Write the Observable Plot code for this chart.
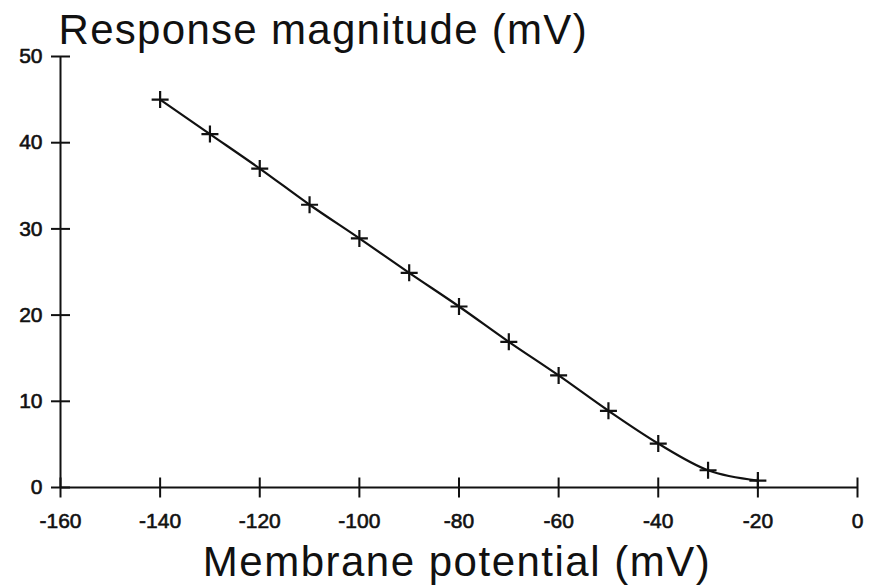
<!DOCTYPE html>
<html>
<head>
<meta charset="utf-8">
<script src="https://cdn.jsdelivr.net/npm/d3@7"></script>
<script src="https://cdn.jsdelivr.net/npm/@observablehq/plot@0.6"></script>
<style>
  html, body { margin: 0; padding: 0; background: #fff; }
  svg { display: block; }
</style>
</head>
<body>
<div id="chart"></div>
<script>
const potential = [-140, -130, -120, -110, -100, -90, -80, -70, -60, -50, -40, -30, -20];
const response  = [45, 41, 37, 32.8, 28.9, 24.9, 21, 16.9, 13, 8.9, 5.1, 2, 0.8];
const xTicks = [-160, -140, -120, -100, -80, -60, -40, -20, 0];
const yTicks = [0, 10, 20, 30, 40, 50];
const title = "Response magnitude (mV)";
const xLabel = "Membrane potential (mV)";

const data = potential.map((x, i) => ({x, y: response[i]}));

function radius(size) { return Math.sqrt(size / Math.PI); }
const plusSym = { draw(ctx, size) { const r = radius(size); ctx.moveTo(-r, 0); ctx.lineTo(r, 0); ctx.moveTo(0, -r); ctx.lineTo(0, r); } };
const vSym = { draw(ctx, size) { const r = radius(size); ctx.moveTo(0, -r); ctx.lineTo(0, r); } };
const hSym = { draw(ctx, size) { const r = radius(size); ctx.moveTo(-r, 0); ctx.lineTo(r, 0); } };

const font = "Liberation Sans, Arial, Helvetica, sans-serif";

const chart = Plot.plot({
  width: 875,
  height: 586,
  marginLeft: 60,
  marginRight: 18,
  marginTop: 56,
  marginBottom: 99,
  style: { fontFamily: font, color: "#111", background: "#fff", overflow: "visible" },
  x: { domain: [-160, 0], axis: null },
  y: { domain: [0, 50], axis: null },
  marks: [
    Plot.text(xTicks, { x: d => d, y: () => 0, text: d => String(d), textAnchor: "middle", lineAnchor: "top", dy: 26, fontSize: 21, fill: "#111", stroke: "#111", strokeWidth: 0.6 }),
    Plot.text(yTicks, { y: d => d, x: () => -160, text: d => String(d), textAnchor: "end", lineAnchor: "middle", dx: -18, fontSize: 21, fill: "#111", stroke: "#111", strokeWidth: 0.6 }),
    Plot.ruleY([0], { stroke: "#111", strokeWidth: 2 }),
    Plot.ruleX([-160], { stroke: "#111", strokeWidth: 2 }),
    Plot.dot(xTicks, { x: d => d, y: () => 0, symbol: vSym, r: 10, stroke: "#111", strokeWidth: 2, fill: "none" }),
    Plot.dot(yTicks, { y: d => d, x: () => -160, symbol: hSym, r: 9.5, stroke: "#111", strokeWidth: 2, fill: "none" }),
    Plot.line(data, { x: "x", y: "y", curve: "monotone-x", stroke: "#111", strokeWidth: 2.2 }),
    Plot.dot(data, { x: "x", y: "y", symbol: plusSym, r: 8.5, stroke: "#111", strokeWidth: 2.2, fill: "none" }),
    Plot.text([title], { text: d => d, frameAnchor: "top-left", textAnchor: "start", lineAnchor: "bottom", dx: -2, dy: -13, fontSize: 42, fill: "#111" }),
    Plot.text([xLabel], { text: d => d, frameAnchor: "bottom", textAnchor: "middle", lineAnchor: "bottom", dx: -2, dy: 88, fontSize: 42, fill: "#111" })
  ]
});
d3.select(chart).selectAll("text").filter(function () { return this.textContent === title || this.textContent === xLabel; })
  .attr("letter-spacing", function () { return this.textContent === title ? "1.3px" : "1.5px"; });
document.getElementById("chart").appendChild(chart);
</script>
</body>
</html>
